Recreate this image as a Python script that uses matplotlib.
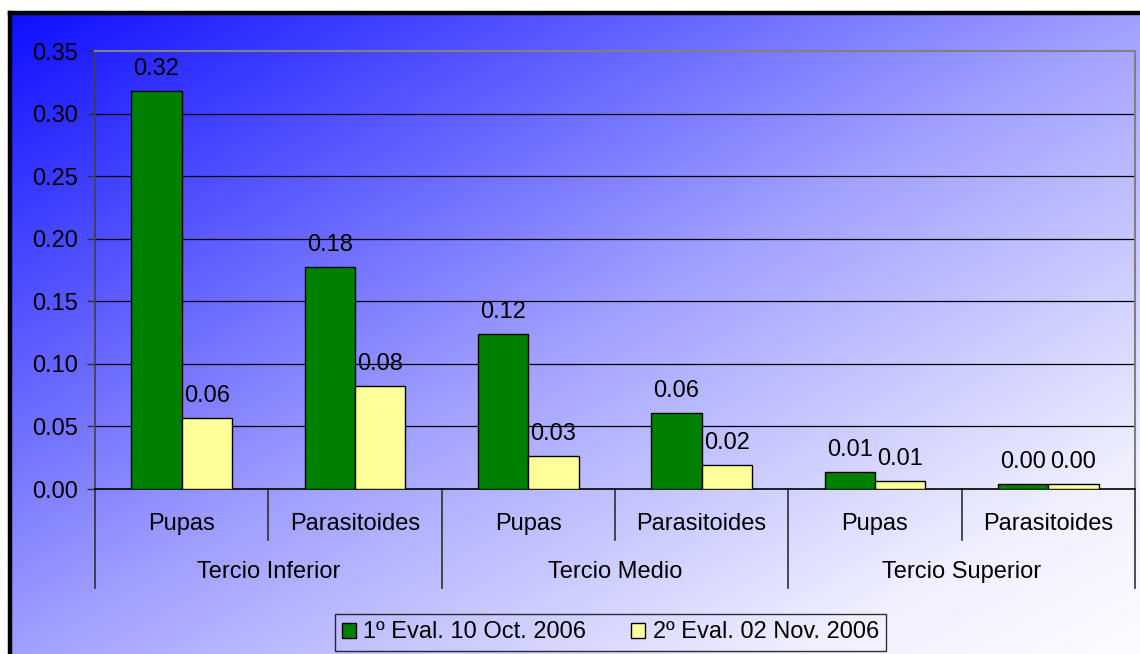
import numpy as np
import matplotlib
matplotlib.use("Agg")
import matplotlib.pyplot as plt
from matplotlib.patches import Patch

plt.rcParams['font.family'] = ['Liberation Sans', 'DejaVu Sans']

groups = ["Tercio Inferior", "Tercio Medio", "Tercio Superior"]
subcats = ["Pupas", "Parasitoides"]
series_names = ["1º Eval. 10 Oct. 2006", "2º Eval. 02 Nov. 2006"]
eval1 = [0.318, 0.177, 0.124, 0.061, 0.0135, 0.004]
eval2 = [0.057, 0.082, 0.026, 0.019, 0.006, 0.004]
colors = ["#008000", "#FFFF99"]
yticks = [0.00, 0.05, 0.10, 0.15, 0.20, 0.25, 0.30, 0.35]

FS = 17
W, H = 1140, 654
fig = plt.figure(figsize=(W / 100, H / 100), dpi=100, facecolor="white")

# background gradient panel
bg = fig.add_axes([10.5 / W, 0, 1 - 10.5 / W, (H - 13) / H])
bw, bh = 400, 230
xx, yy = np.meshgrid(np.linspace(0, 1, bw), np.linspace(0, 1, bh))
t = 0.5 * (xx + yy)
rg = np.interp(t, [0, 0.5, 0.85, 1.0], [15, 160, 240, 252]) / 255.0
img = np.dstack([rg, rg, np.ones_like(rg)])
bg.imshow(img, aspect="auto", extent=[0, 1, 1, 0], interpolation="bilinear")
bg.set_xlim(0, 1); bg.set_ylim(1, 0)
bg.set_xticks([]); bg.set_yticks([])
for s in ["right", "bottom"]:
    bg.spines[s].set_visible(False)
for s in ["left", "top"]:
    bg.spines[s].set_linewidth(3.2)
    bg.spines[s].set_color("black")

# main axes
x0, x1, ytop, ybot = 95, 1135, 51, 489
ax = fig.add_axes([x0 / W, 1 - ybot / H, (x1 - x0) / W, (ybot - ytop) / H])
ax.set_facecolor("none")
n = len(eval1)
x = np.arange(n)
bwid = 0.29
b1 = ax.bar(x - bwid / 2, eval1, bwid, color=colors[0], edgecolor="black", linewidth=1.0, zorder=3)
b2 = ax.bar(x + bwid / 2, eval2, bwid, color=colors[1], edgecolor="black", linewidth=1.0, zorder=3)
for bars, vals in [(b1, eval1), (b2, eval2)]:
    for rect, v in zip(bars, vals):
        ax.annotate(f"{v:.2f}", (rect.get_x() + rect.get_width() / 2, v),
                    xytext=(0, 8), textcoords="offset points", ha="center", va="bottom",
                    fontsize=FS, color="black")

ax.set_xlim(-0.5, n - 0.5)
ax.set_ylim(0, 0.35)
ax.set_yticks(yticks)
ax.set_yticklabels([f"{v:.2f}" for v in yticks], fontsize=FS)
ax.tick_params(axis="y", length=6, width=1, color="#303030", pad=6)
ax.set_xticks([])
for v in yticks[1:-1]:
    ax.axhline(v, color="black", linewidth=0.9, zorder=1)
ax.spines["top"].set_color("#808080")
ax.spines["right"].set_color("#808080")
ax.spines["top"].set_linewidth(1.5)
ax.spines["right"].set_linewidth(1.5)
ax.spines["left"].set_color("#404040")
ax.spines["left"].set_linewidth(1.2)
ax.spines["bottom"].set_color("black")
ax.spines["bottom"].set_linewidth(1.2)

# two-level category axis
tr = ax.get_xaxis_transform()
axh = ybot - ytop
y_sub_line = -51 / axh
y_grp_line = -99 / axh
y_sub_text = -35 / axh
y_grp_text = -83 / axh
for i in range(n):
    ax.text(i, y_sub_text, subcats[i % 2], transform=tr, ha="center", va="center",
            fontsize=FS, clip_on=False)
    if i % 2 == 1:
        ax.plot([i - 0.5, i - 0.5], [0, y_sub_line], transform=tr, color="#303030",
                linewidth=1.2, clip_on=False)
for g in range(len(groups)):
    ax.text(2 * g + 0.5, y_grp_text, groups[g], transform=tr, ha="center", va="center",
            fontsize=FS, clip_on=False)
for b in range(len(groups) + 1):
    ax.plot([2 * b - 0.5, 2 * b - 0.5], [0, y_grp_line], transform=tr, color="#303030",
            linewidth=1.2, clip_on=False)

handles = [Patch(facecolor=colors[0], edgecolor="black", linewidth=1.0),
           Patch(facecolor=colors[1], edgecolor="black", linewidth=1.0)]
leg = fig.legend(handles, series_names, loc="center", bbox_to_anchor=(610.5 / W, 1 - 632.5 / H),
                 ncol=2, fontsize=FS, frameon=True, fancybox=False, handlelength=0.6,
                 handleheight=0.6, handletextpad=0.3, columnspacing=1.9,
                 borderpad=0.3, borderaxespad=0)
leg.get_frame().set_facecolor("none")
leg.get_frame().set_edgecolor("black")
leg.get_frame().set_linewidth(1.0)

fig.savefig("out.png", dpi=100, facecolor="white")
